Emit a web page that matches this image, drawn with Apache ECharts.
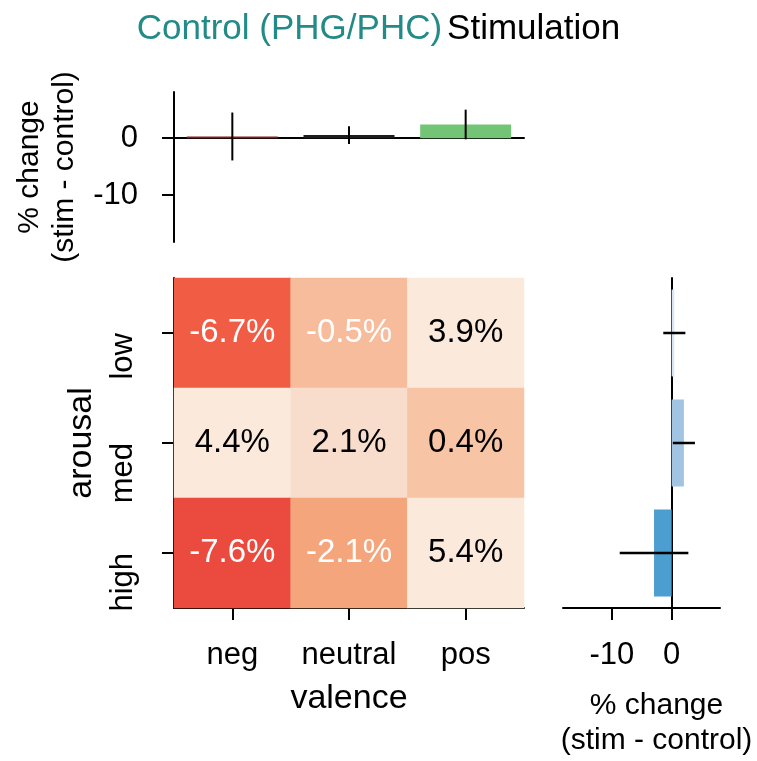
<!DOCTYPE html>
<html>
<head>
<meta charset="utf-8">
<script src="https://cdn.jsdelivr.net/npm/echarts@6/dist/echarts.min.js"></script>
<style>html,body{margin:0;padding:0;background:#fff}#c{width:757px;height:761px}</style>
</head>
<body>
<div id="c"></div>
<script>
// ---- data ----
const valence = ['neg', 'neutral', 'pos'];
const arousal = ['low', 'med', 'high'];
// rows = arousal (low, med, high), cols = valence (neg, neutral, pos)
const heatLow = [-6.7, -0.5, 3.9];
const heatMed = [4.4, 2.1, 0.4];
const heatHigh = [-7.6, -2.1, 5.4];
const valenceMean = [0.3, 0.55, 2.4];
const valenceErr = [4.2, 1.55, 2.6];
const arousalMean = [0.45, 2.05, -2.95];
const arousalErr = [1.85, 1.85, 5.75];
const changeTicks = [-10, 0];

// ---- styles ----
const FONT = 'Liberation Sans';
const valenceColors = ['#8b1a1a', '#1c1c1c', '#74c476'];
const arousalColors = ['#d9e5f3', '#a0c4e1', '#4b9ecf'];
const cmapStops = [[-7.6, '#eb4b3f'], [-6.7, '#f15c45'], [-2.1, '#f5a57c'], [-0.5, '#f6bc9b'], [0.4, '#f7c5a6'], [2.1, '#f8ddcc'], [3.9, '#fbeadc']];
function hex2rgb(h){return [1,3,5].map(i=>parseInt(h.substr(i,2),16));}
function cmap(v){
  if (v <= cmapStops[0][0]) return cmapStops[0][1];
  for (let i=1;i<cmapStops.length;i++){
    if (v <= cmapStops[i][0]){
      const [a,ca]=cmapStops[i-1],[b,cb]=cmapStops[i];
      const t=(v-a)/(b-a), A=hex2rgb(ca), B=hex2rgb(cb);
      return 'rgb('+A.map((x,k)=>Math.round(x+(B[k]-x)*t)).join(',')+')';
    }
  }
  return cmapStops[cmapStops.length-1][1];
}
const heatRows = [heatLow, heatMed, heatHigh];
const heatData = [];
heatRows.forEach((row, r) => row.forEach((v, c) => heatData.push({value: [c, r, v], itemStyle: {color: cmap(v)}})));

const AX = {lineStyle: {color: '#000', width: 2}};
const RANGE = [-18.2, 8.1];

const chart = echarts.init(document.getElementById('c'));
chart.setOption({
  animation: false,
  textStyle: {fontFamily: FONT},
  title: {
    text: '{a|Control (PHG/PHC)} {b|Stimulation}',
    left: 'center', top: 7,
    textStyle: {fontWeight: 'normal', rich: {
      a: {color: '#228b87', fontSize: 35, fontWeight: 'normal', fontFamily: FONT},
      b: {color: '#000', fontSize: 35, fontWeight: 'normal', fontFamily: FONT}
    }}
  },
  grid: [
    {left: 174, top: 92, width: 350, height: 150},
    {left: 174, top: 278, width: 350, height: 330},
    {left: 563, top: 278, width: 157, height: 330}
  ],
  xAxis: [
    {gridIndex: 0, type: 'category', data: valence, axisLine: {show: true, onZero: true, ...AX},
     axisTick: {show: false}, axisLabel: {show: false}, splitLine: {show: false}},
    {gridIndex: 1, type: 'category', data: valence, axisLine: {show: true, ...AX},
     axisTick: {show: true, alignWithLabel: true, interval: 0, length: 12, lineStyle: {color: '#000', width: 2}},
     axisLabel: {fontSize: 31, color: '#000', margin: 32, interval: 0, fontFamily: FONT},
     name: 'valence', nameLocation: 'middle', nameGap: 74,
     nameTextStyle: {fontSize: 34, color: '#000', fontFamily: FONT}, splitLine: {show: false}},
    {gridIndex: 2, type: 'value', min: RANGE[0], max: RANGE[1], axisLine: {show: true, ...AX},
     axisTick: {show: true, length: 12, customValues: changeTicks, lineStyle: {color: '#000', width: 2}},
     axisLabel: {fontSize: 31, color: '#000', margin: 32, customValues: changeTicks, fontFamily: FONT},
     splitLine: {show: false},
     name: '% change\n(stim - control)', nameLocation: 'middle', nameGap: 80,
     nameTextStyle: {fontSize: 30, color: '#000', lineHeight: 35, padding: [0, 0, 0, 30], fontFamily: FONT}}
  ],
  yAxis: [
    {gridIndex: 0, type: 'value', min: RANGE[0], max: RANGE[1], axisLine: {show: true, ...AX},
     axisTick: {show: true, length: 12, customValues: changeTicks, lineStyle: {color: '#000', width: 2}},
     axisLabel: {fontSize: 31, color: '#000', margin: 36, customValues: changeTicks, fontFamily: FONT},
     splitLine: {show: false},
     name: '% change\n(stim - control)', nameLocation: 'middle', nameGap: 92, nameRotate: 90,
     nameTextStyle: {fontSize: 30, color: '#000', lineHeight: 35, fontFamily: FONT}},
    {gridIndex: 1, type: 'category', data: arousal, inverse: true, axisLine: {show: true, ...AX},
     axisTick: {show: true, alignWithLabel: true, interval: 0, length: 12, lineStyle: {color: '#000', width: 2}},
     axisLabel: {fontSize: 31, color: '#000', rotate: 90, align: 'right', verticalAlign: 'bottom', margin: 35, interval: 0, fontFamily: FONT},
     name: 'arousal', nameLocation: 'middle', nameGap: 75, nameRotate: 90,
     nameTextStyle: {fontSize: 34, color: '#000', fontFamily: FONT}, splitLine: {show: false}},
    {gridIndex: 2, type: 'category', data: arousal, inverse: true, axisLine: {show: true, onZero: true, ...AX},
     axisTick: {show: false}, axisLabel: {show: false}, splitLine: {show: false}}
  ],
  series: [
    {type: 'bar', xAxisIndex: 0, yAxisIndex: 0, data: valenceMean, barWidth: '78%',
     itemStyle: {color: p => valenceColors[p.dataIndex]}, z: 2},
    {type: 'custom', xAxisIndex: 0, yAxisIndex: 0, z: 5,
     data: valenceMean.map((m, i) => [i, m, valenceErr[i]]),
     renderItem: (params, api) => {
       const a = api.coord([api.value(0), api.value(1) - api.value(2)]);
       const b = api.coord([api.value(0), api.value(1) + api.value(2)]);
       return {type: 'line', shape: {x1: a[0], y1: a[1], x2: b[0], y2: b[1]}, style: {stroke: '#000', lineWidth: 2}};
     }},
    {type: 'heatmap', xAxisIndex: 1, yAxisIndex: 1, data: heatData,
     label: {show: true, fontFamily: FONT,
       formatter: p => (p.value[2] < 0 ? '{w|' : '{k|') + p.value[2].toFixed(1) + '%}',
       rich: {w: {color: '#fff', fontSize: 33, fontFamily: FONT}, k: {color: '#000', fontSize: 33, fontFamily: FONT}}},
     emphasis: {disabled: true}},
    {type: 'bar', xAxisIndex: 2, yAxisIndex: 2, data: arousalMean, barWidth: '79%',
     itemStyle: {color: p => arousalColors[p.dataIndex]}, z: 2},
    {type: 'custom', xAxisIndex: 2, yAxisIndex: 2, z: 5,
     data: arousalMean.map((m, i) => [m, i, arousalErr[i]]),
     encode: {x: 0, y: 1},
     renderItem: (params, api) => {
       const a = api.coord([api.value(0) - api.value(2), api.value(1)]);
       const b = api.coord([api.value(0) + api.value(2), api.value(1)]);
       return {type: 'line', shape: {x1: a[0], y1: a[1], x2: b[0], y2: b[1]}, style: {stroke: '#000', lineWidth: 2.5}};
     }}
  ]
});
</script>
</body>
</html>
